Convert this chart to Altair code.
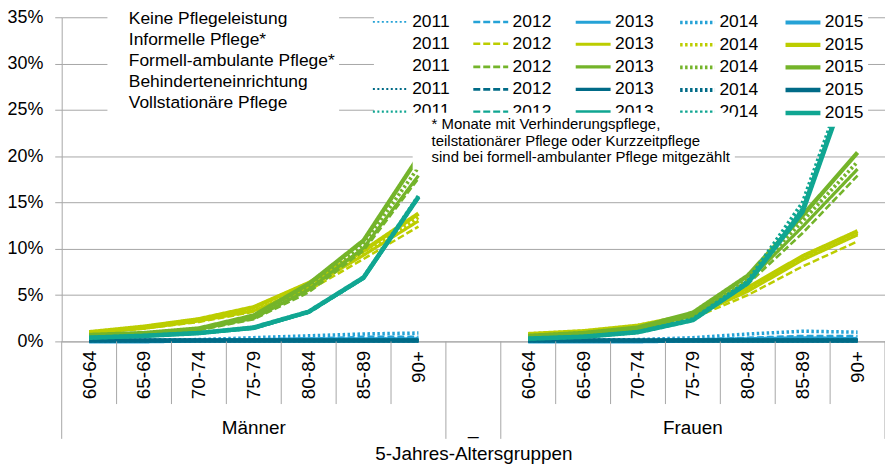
import json
import pandas as pd
import altair as alt

FONT = "Liberation Sans"
GRAY = "#a6a6a6"

AGES = ["60-64", "65-69", "70-74", "75-79", "80-84", "85-89", "90+"]
SEXES = ["Männer", "Frauen"]
GROUP_LABELS = ["Männer", "_", "Frauen"]
TYPES = ["Keine Pflegeleistung", "Informelle Pflege*", "Formell-ambulante Pflege*",
         "Behinderteneinrichtung", "Vollstationäre Pflege"]
TYPE_COLORS = ["#25a2d6", "#bccd00", "#74b42a", "#006b87", "#10a692"]
YEARS = ["2011", "2012", "2013", "2014", "2015"]
YEAR_DASH = [[2, 2.5], [7, 3], [1, 0], [2.5, 2.5], [1, 0]]
LINE_WIDTH_RANGE = [1.8, 4.6]
Y_TICKS = [0, 5, 10, 15, 20, 25, 30, 35]
NOTE_LINES = ["* Monate mit Verhinderungspflege,",
              "teilstationärer Pflege oder Kurzzeitpflege",
              "sind bei formell-ambulanter Pflege mitgezählt"]

# values in percent: year -> (Männer, Frauen), one value per age group
KEINE = {
    "2011": ([0.0, 0.0, 0.1, 0.1, 0.2, 0.3, 0.4], [0.0, 0.0, 0.1, 0.1, 0.3, 0.4, 0.4]),
    "2012": ([0.0, 0.1, 0.1, 0.2, 0.3, 0.5, 0.5], [0.0, 0.1, 0.1, 0.2, 0.4, 0.6, 0.6]),
    "2013": ([0.0, 0.1, 0.1, 0.2, 0.3, 0.3, 0.3], [0.0, 0.1, 0.1, 0.2, 0.3, 0.4, 0.3]),
    "2014": ([0.1, 0.1, 0.2, 0.4, 0.6, 0.8, 0.9], [0.1, 0.1, 0.2, 0.4, 0.8, 1.1, 1.0]),
    "2015": ([0.0, 0.0, 0.1, 0.1, 0.1, 0.1, 0.1], [0.0, 0.0, 0.0, 0.1, 0.1, 0.1, 0.1]),
}
INFORMELL = {
    "2012": ([0.9, 1.4, 2.1, 3.2, 5.5, 8.9, 12.4], [0.7, 1.0, 1.5, 2.5, 5.0, 8.1, 10.8]),
    "2013": ([0.9, 1.4, 2.2, 3.3, 5.8, 9.3, 13.0], [0.7, 1.0, 1.6, 2.7, 5.4, 8.8, 11.5]),
    "2014": ([1.0, 1.5, 2.3, 3.4, 6.0, 9.5, 13.4], [0.8, 1.1, 1.7, 2.8, 5.6, 9.0, 11.7]),
    "2015": ([1.0, 1.6, 2.4, 3.7, 6.3, 9.8, 13.8], [0.8, 1.1, 1.7, 2.9, 5.8, 9.2, 11.9]),
}
FORMELL = {
    "2012": ([0.6, 0.8, 1.2, 2.4, 5.3, 9.8, 17.6], [0.5, 0.8, 1.3, 2.7, 6.2, 11.7, 17.9]),
    "2013": ([0.6, 0.8, 1.3, 2.5, 5.6, 10.1, 17.9], [0.5, 0.8, 1.3, 2.8, 6.5, 12.4, 18.6]),
    "2014": ([0.6, 0.9, 1.3, 2.6, 5.9, 10.5, 18.8], [0.6, 0.9, 1.4, 2.9, 6.8, 13.0, 19.4]),
    "2015": ([0.7, 0.9, 1.4, 2.8, 6.2, 10.9, 19.9], [0.6, 0.9, 1.5, 3.1, 7.1, 13.6, 20.4]),
}
BEHINDERT = {
    "2011": ([0.1, 0.1, 0.1, 0.1, 0.1, 0.1, 0.1], [0.1, 0.1, 0.1, 0.1, 0.1, 0.1, 0.1]),
    "2012": ([0.1, 0.1, 0.1, 0.1, 0.1, 0.1, 0.1], [0.1, 0.1, 0.1, 0.1, 0.1, 0.1, 0.1]),
    "2013": ([0.1, 0.1, 0.1, 0.1, 0.1, 0.1, 0.1], [0.1, 0.1, 0.1, 0.1, 0.1, 0.1, 0.1]),
    "2014": ([0.1, 0.1, 0.1, 0.1, 0.1, 0.1, 0.1], [0.1, 0.1, 0.1, 0.1, 0.1, 0.1, 0.1]),
    "2015": ([0.1, 0.1, 0.1, 0.1, 0.1, 0.1, 0.1], [0.1, 0.1, 0.1, 0.1, 0.1, 0.1, 0.1]),
}
VOLLSTATIONAER = {
    "2011": ([0.4, 0.6, 0.9, 1.4, 3.1, 6.8, 15.5], [0.3, 0.5, 1.0, 2.3, 6.2, 14.5, 31.2]),
    "2012": ([0.4, 0.6, 0.9, 1.4, 3.1, 6.8, 15.5], [0.3, 0.5, 1.0, 2.3, 6.2, 14.2, 31.0]),
    "2013": ([0.4, 0.6, 0.9, 1.4, 3.2, 6.8, 15.6], [0.3, 0.5, 1.0, 2.3, 6.3, 14.3, 31.0]),
    "2014": ([0.4, 0.6, 0.9, 1.5, 3.2, 6.9, 15.7], [0.3, 0.5, 1.0, 2.4, 6.5, 15.0, 31.5]),
    "2015": ([0.4, 0.6, 0.9, 1.5, 3.2, 6.9, 15.6], [0.3, 0.5, 1.0, 2.3, 6.3, 14.0, 30.8]),
}
SERIES = [KEINE, INFORMELL, FORMELL, BEHINDERT, VOLLSTATIONAER]

N_AGE = len(AGES)
GAP = 1
N_POS = 2 * N_AGE + GAP

rows = []
for typ, ser in zip(TYPES, SERIES):
    for year, (men, women) in ser.items():
        for s, vals in enumerate((men, women)):
            for i, v in enumerate(vals):
                pos = s * (N_AGE + GAP) + i + 0.5
                rows.append({"typ": typ, "year": year, "key": f"{typ}|{year}",
                             "sex": SEXES[s], "pos": pos, "value": v})
df = pd.DataFrame(rows)

# legend grid fills column by column: one column per year, one row per care type
keys, colors, dashes = [], [], []
for y, d in zip(YEARS, YEAR_DASH):
    for typ, col, ser in zip(TYPES, TYPE_COLORS, SERIES):
        keys.append(f"{typ}|{y}")
        colors.append(col if y in ser else "#ffffff")
        dashes.append(d)

centers = [s * (N_AGE + GAP) + i + 0.5 for s in range(2) for i in range(N_AGE)]
label_expr = json.dumps(AGES) + "[floor(datum.value) % " + str(N_AGE + GAP) + "]"

W, H = 828, 326
x_scale = alt.Scale(domain=[0, N_POS], nice=False, zero=False)

LEG_FS = 17.5

legA = alt.Legend(orient="none", legendX=314, legendY=-11, columns=5, title=None,
                  labelExpr="split(datum.label, '|')[1]", symbolType="M-1.8,0L1.8,0",
                  symbolSize=380,
                  labelFontSize=LEG_FS, labelFont=FONT, labelColor="black", labelOffset=9.5,
                  columnPadding=17, rowPadding=1.7, fillColor="white", padding=4,
                  labelLimit=200)

lines = alt.Chart(df).mark_line().encode(
    x=alt.X("pos:Q", scale=x_scale,
            axis=alt.Axis(values=centers, labelExpr=label_expr, labelAngle=270, ticks=False,
                          grid=False, domain=True, domainColor=GRAY, labelFontSize=19,
                          labelFont=FONT, labelColor="black", labelPadding=9,
                          labelOverlap=False, labelFlush=False,
                          title="5-Jahres-Altersgruppen", titleFontSize=19, titleFont=FONT,
                          titleFontWeight="normal", titleColor="black", titleX=W / 2,
                          titleY=113, titleBaseline="middle")),
    y=alt.Y("value:Q", scale=alt.Scale(domain=[0, 35], nice=False),
            axis=alt.Axis(values=Y_TICKS, labelExpr="datum.value + '%'", labelFontSize=18,
                          labelFont=FONT, labelColor="black", tickSize=7, tickColor=GRAY,
                          labelPadding=12, grid=True, gridColor=GRAY, domainColor=GRAY,
                          title=None)),
    color=alt.Color("key:N", scale=alt.Scale(domain=keys, range=colors), legend=legA),
    strokeDash=alt.StrokeDash("key:N", scale=alt.Scale(domain=keys, range=dashes), legend=legA),
    strokeWidth=alt.StrokeWidth("key:N", scale=alt.Scale(domain=keys, range=LINE_WIDTH_RANGE),
                                legend=legA),
    detail="sex:N",
)

inner_b = [s * (N_AGE + GAP) + i for s in range(2) for i in range(1, N_AGE)]
outer_b = [0, N_AGE, N_AGE + GAP, N_POS]
rules_inner = alt.Chart(pd.DataFrame({"pos": inner_b})).mark_rule(color=GRAY, strokeWidth=1).encode(
    x=alt.X("pos:Q", scale=x_scale), y=alt.value(H), y2=alt.value(H + 63))
rules_outer = alt.Chart(pd.DataFrame({"pos": outer_b})).mark_rule(color=GRAY, strokeWidth=1).encode(
    x=alt.X("pos:Q", scale=x_scale), y=alt.value(H), y2=alt.value(H + 98))

group_df = pd.DataFrame({"pos": [N_AGE / 2, N_AGE + GAP / 2, N_AGE + GAP + N_AGE / 2],
                         "label": GROUP_LABELS})
groups = alt.Chart(group_df).mark_text(font=FONT, fontSize=19, color="black",
                                       baseline="middle").encode(
    x=alt.X("pos:Q", scale=x_scale), y=alt.value(H + 87), text="label:N")

legB = alt.Legend(orient="none", legendX=46, legendY=-11, title=None, symbolSize=0,
                  symbolStrokeWidth=0, symbolOpacity=0, labelOffset=0, labelFontSize=LEG_FS,
                  labelFont=FONT, labelColor="black", rowPadding=2.2, fillColor="white",
                  padding=4, labelLimit=300)
names = alt.Chart(pd.DataFrame({"typ": TYPES})).mark_point(opacity=0).encode(
    x=alt.value(0), y=alt.value(0),
    shape=alt.Shape("typ:N", scale=alt.Scale(domain=TYPES), legend=legB))

legC = alt.Legend(orient="none", legendX=353, legendY=96, title=None, symbolSize=0,
                  symbolStrokeWidth=0, symbolOpacity=0, labelOffset=0, labelFontSize=15,
                  labelFont=FONT, labelColor="black", rowPadding=0.5, fillColor="white",
                  padding=4, labelLimit=500)
notes = alt.Chart(pd.DataFrame({"note": NOTE_LINES})).mark_point(opacity=0).encode(
    x=alt.value(0), y=alt.value(0),
    fill=alt.Fill("note:N", scale=alt.Scale(domain=NOTE_LINES, range=["white"] * 3), legend=legC))

chart = alt.layer(lines, rules_inner, rules_outer, groups, names, notes).properties(
    width=W, height=H,
    autosize=alt.AutoSizeParams(type="none"),
    padding={"left": 54, "top": 8, "right": 0, "bottom": 124},
).configure(font=FONT).configure_view(stroke=None)

chart.save("out.html", embed_options={"renderer": "svg", "actions": False})
